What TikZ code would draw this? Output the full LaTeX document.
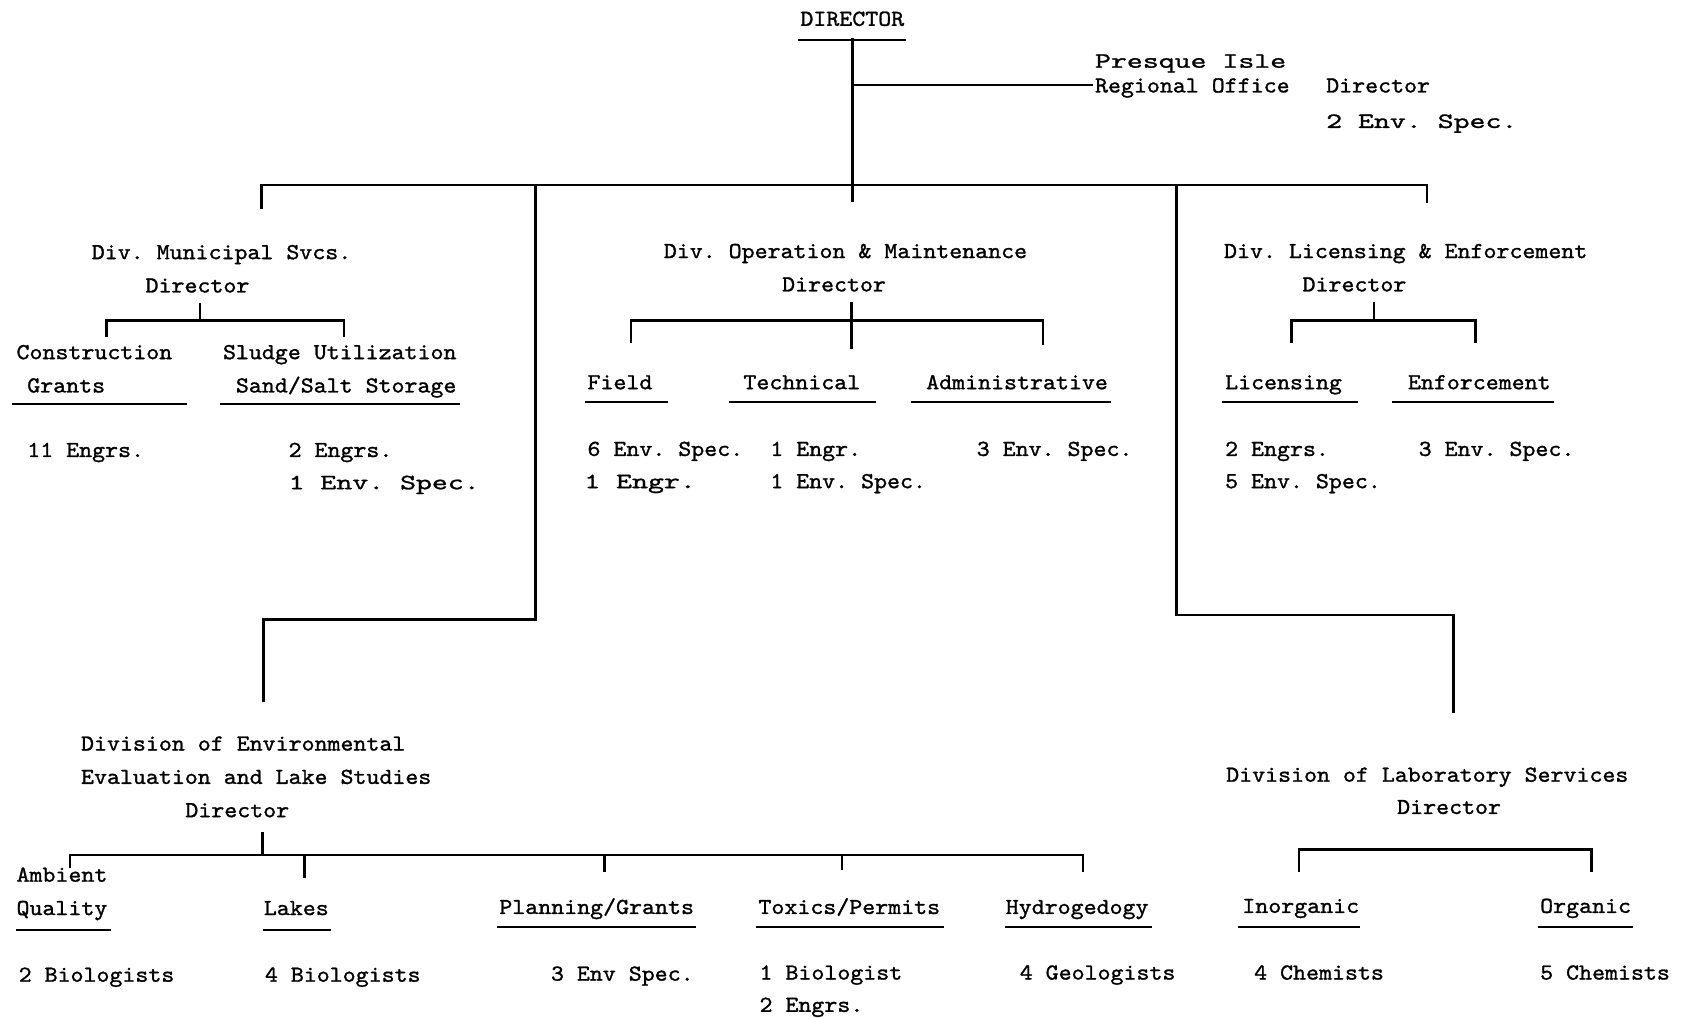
\documentclass[tikz,border=0pt]{standalone}
\usepackage{fontspec}
\newfontfamily\mainf[FakeStretch=1.08,FakeBold=1.2]{Latin Modern Mono}
\newfontfamily\widef[FakeStretch=1.39,FakeBold=1.2]{Latin Modern Mono}
\frenchspacing
\tikzset{
  txt/.style={anchor=base west, inner sep=0pt, font=\mainf\fontsize{10.64}{14}\selectfont\frenchspacing},
  wtxt/.style={anchor=base west, inner sep=0pt, font=\widef\fontsize{10.15}{14}\selectfont\frenchspacing},
  ln/.style={line width=1.2pt, line cap=rect, line join=miter},
  ul/.style={line width=1.0pt},
}
\begin{document}
\begin{tikzpicture}[x=0.5pt,y=-0.5pt]
\useasboundingbox (0,0) rectangle (1568,947);
% ---------------- top ----------------
\node[txt] (dir) at (744,24) {DIRECTOR};
\draw[ul] (742,37) -- (843,37);
\node[wtxt] (pi1) at (1018,63) {Presque Isle};
\node[txt] (pi2) at (1018,86) {Regional Office};
\node[txt] (pi3) at (1233,86) {Director};
\node[wtxt] (pi4) at (1233,119) {2 Env. Spec.};
\coordinate (d0) at (793,37);
\coordinate (dpi) at (793,79);
\coordinate (pie) at (1015,79);
\coordinate (dbar) at (793,172);
\coordinate (dtick) at (793,187);
\draw[ln] (d0) -- (dtick);
\draw[ln] (dpi) -- (pie);
% main bar
\coordinate (bl) at (243,172);
\coordinate (br) at (1327,172);
\draw[ln] (243,193) -- (bl) -- (br) -- (1327,188);
% stairs
\coordinate (s1a) at (498,172);
\coordinate (s1b) at (498,576);
\coordinate (s1c) at (245,576);
\coordinate (s1d) at (245,652);
\draw[ln] (s1a) -- (s1b) -- (s1c) -- (s1d);
\coordinate (s2a) at (1094,172);
\coordinate (s2b) at (1094,572);
\coordinate (s2c) at (1352,572);
\coordinate (s2d) at (1352,662);
\draw[ln] (s2a) -- (s2b) -- (s2c) -- (s2d);
% ---------------- Municipal ----------------
\node[txt] (ms1) at (85,241) {Div. Municipal Svcs.};
\node[txt] (ms2) at (135,272) {Director};
\draw[ln] (186,283) -- (186,298);
\draw[ln] (99,312) -- (99,298) -- (320,298) -- (320,312);
\node[txt] (cg1) at (15,334) {Construction};
\node[txt] (cg2) at (25,365) {Grants};
\draw[ul] (11,376) -- (174,376);
\node[txt] (su1) at (207,334) {Sludge Utilization};
\node[txt] (su2) at (219,365) {Sand/Salt Storage};
\draw[ul] (205,376) -- (428,376);
\node[txt] (cgn) at (25,425) {11 Engrs.};
\node[txt] (sun1) at (268,425) {2 Engrs.};
\node[wtxt] (sun2) at (268,455) {1 Env. Spec.};
% ---------------- O&M ----------------
\node[txt] (om1) at (617,240) {Div. Operation \& Maintenance};
\node[txt] (om2) at (727,271) {Director};
\draw[ln] (792,282) -- (792,323);
\draw[ln] (587,318) -- (587,298) -- (970,298) -- (970,320);
\node[txt] (fi) at (546,362) {Field};
\draw[ul] (544,374) -- (621,374);
\node[txt] (te) at (691,362) {Technical};
\draw[ul] (678,374) -- (815,374);
\node[txt] (ad) at (861,362) {Administrative};
\draw[ul] (847,374) -- (1033,374);
\node[txt] (fin1) at (546,424) {6 Env. Spec.};
\node[wtxt] (fin2) at (543,454) {1 Engr.};
\node[txt] (ten1) at (716,424) {1 Engr.};
\node[txt] (ten2) at (716,454) {1 Env. Spec.};
\node[txt] (adn) at (908,424) {3 Env. Spec.};
% ---------------- L&E ----------------
\node[txt] (le1) at (1138,240) {Div. Licensing \& Enforcement};
\node[txt] (le2) at (1211,271) {Director};
\draw[ln] (1278,282) -- (1278,298);
\draw[ln] (1201,318) -- (1201,298) -- (1372,298) -- (1372,318);
\node[txt] (li) at (1139,362) {Licensing};
\draw[ul] (1136,374) -- (1263,374);
\node[txt] (en) at (1309,362) {Enforcement};
\draw[ul] (1295,374) -- (1445,374);
\node[txt] (lin1) at (1139,424) {2 Engrs.};
\node[txt] (lin2) at (1139,454) {5 Env. Spec.};
\node[txt] (enn) at (1319,424) {3 Env. Spec.};
% ---------------- Env. Eval ----------------
\node[txt] (ee1) at (75,698) {Division of Environmental};
\node[txt] (ee2) at (75,729) {Evaluation and Lake Studies};
\node[txt] (ee3) at (172,760) {Director};
\draw[ln] (244,775) -- (244,795);
\draw[ln] (65,806) -- (65,795) -- (1007,795) -- (1007,810);
\draw[ln] (283,795) -- (283,815);
\draw[ln] (562,795) -- (562,810);
\draw[ln] (783,795) -- (783,808);
\node[txt] (aq1) at (15,820) {Ambient};
\node[txt] (aq2) at (15,851) {Quality};
\draw[ul] (15,865) -- (103,865);
\node[txt] (la) at (245,851) {Lakes};
\draw[ul] (245,865) -- (308,865);
\node[txt] (pg) at (464,850) {Planning/Grants};
\draw[ul] (462,862) -- (647,862);
\node[txt] (tp) at (705,850) {Toxics/Permits};
\draw[ul] (703,862) -- (878,862);
\node[txt] (hy) at (935,850) {Hydrogedogy};
\draw[ul] (935,862) -- (1071,862);
\node[txt] (aqn) at (17,913) {2 Biologists};
\node[txt] (lan) at (246,913) {4 Biologists};
\node[txt] (pgn) at (512,912) {3 Env Spec.};
\node[txt] (tpn1) at (706,911) {1 Biologist};
\node[txt] (tpn2) at (706,941) {2 Engrs.};
\node[txt] (hyn) at (948,911) {4 Geologists};
% ---------------- Lab ----------------
\node[txt] (lb1) at (1140,727) {Division of Laboratory Services};
\node[txt] (lb2) at (1299,757) {Director};
\draw[ln] (1208,810) -- (1208,790) -- (1480,790) -- (1480,810);
\node[txt] (io) at (1155,849) {Inorganic};
\draw[ul] (1151,862) -- (1265,862);
\node[txt] (og) at (1432,849) {Organic};
\draw[ul] (1430,862) -- (1519,862);
\node[txt] (ion) at (1166,911) {4 Chemists};
\node[txt] (ogn) at (1432,911) {5 Chemists};
\end{tikzpicture}
\end{document}
